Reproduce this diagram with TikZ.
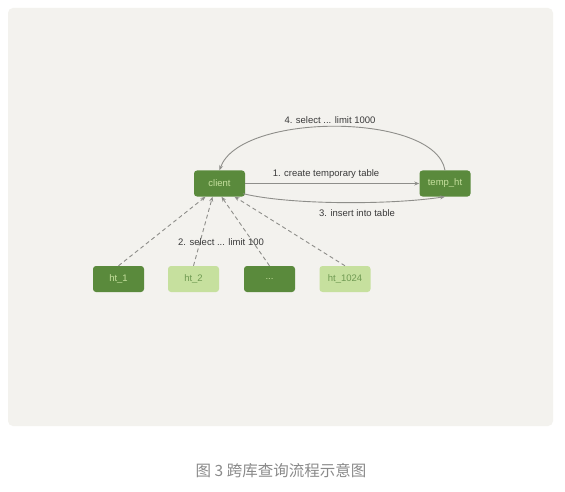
\documentclass[tikz,border=0pt]{standalone}
\usepackage{fontspec}
\setmainfont{Liberation Sans}
\newfontfamily\cjk{Noto Sans CJK SC}
\usetikzlibrary{arrows.meta}
\definecolor{bgpanel}{HTML}{F3F2EE}
\definecolor{darkg}{HTML}{5A8A3C}
\definecolor{lightg}{HTML}{C6E09E}
\definecolor{darktxt}{HTML}{C6E09E}
\definecolor{lighttxt}{HTML}{6F9A52}
\definecolor{arr}{HTML}{8E8E8A}
\definecolor{lbl}{HTML}{3A3A3A}
\definecolor{cap}{HTML}{8A8A8A}
\begin{document}
\begin{tikzpicture}[x=1pt,y=-1pt,
  darkbox/.style={draw=none,fill=darkg,rounded corners=3pt,minimum width=51pt,minimum height=26pt,inner sep=0pt,text=darktxt,font=\fontsize{9.5}{11}\selectfont},
  lightbox/.style={draw=none,fill=lightg,rounded corners=3pt,minimum width=51pt,minimum height=26pt,inner sep=0pt,text=lighttxt,font=\fontsize{9.5}{11}\selectfont},
  conn/.style={draw=arr,line width=0.9pt,-{Stealth[length=5pt,width=4pt]}},
  dconn/.style={conn,dash pattern=on 4pt off 3pt},
  lab/.style={text=lbl,font=\fontsize{9.5}{11}\selectfont,inner sep=1pt}]
\useasboundingbox (0,0) rectangle (565,492);
\fill[white] (0,0) rectangle (565,492);
\fill[bgpanel,rounded corners=5pt] (8,8) rectangle (553,426);
\node[darkbox] (client) at (219.5,183.5) {client};
\node[darkbox] (temp) at (445,183.5) {temp\_ht};
\node[darkbox] (h1) at (118.5,279) {ht\_1};
\node[lightbox] (h2) at (193.5,279) {ht\_2};
\node[darkbox] (h3) at (269.5,279) {...};
\node[lightbox] (h4) at (345,279) {ht\_1024};
% 1
\draw[conn] (client.east) -- (temp.west);
\node[lab] (l1) at (326,174) {1. create temporary table};
% 3
\draw[conn] (client.south east) ++(-2,-3) coordinate (c3s) .. controls (290,205) and (390,205) .. (temp.south);
\node[lab] (l3) at (357,213) {3. insert into table};
% 4
\draw[conn] (temp.north) .. controls (435,112) and (240,112) .. (client.north);
\node[lab] (l4) at (330,120) {4. select ... limit 1000};
% 2
\draw[dconn] (h1.north) -- ([xshift=-14pt]client.south);
\draw[dconn] (h2.north) -- ([xshift=-7pt]client.south);
\draw[dconn] (h3.north) -- ([xshift=2pt]client.south);
\draw[dconn] (h4.north) -- ([xshift=15pt]client.south);
\node[lab] (l2) at (221,242) {2. select ... limit 100};
% caption
\node[text=cap,font=\cjk\fontsize{15.5}{17}\selectfont] (caption) at (281,471) {图 3 跨库查询流程示意图};
\end{tikzpicture}
\end{document}
